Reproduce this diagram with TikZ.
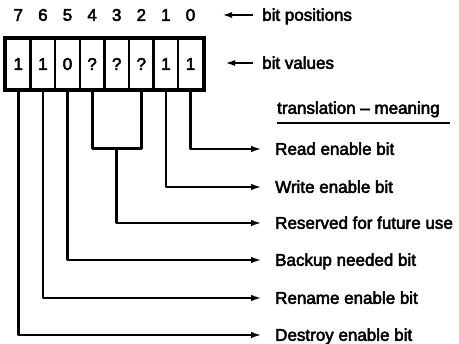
\documentclass[tikz,border=0pt]{standalone}
\usepackage{fontspec}
\setmainfont{Liberation Sans}[FakeBold=3]
\usetikzlibrary{arrows.meta,calc}
\begin{document}
\begin{tikzpicture}[x=1pt,y=-1pt,
  every node/.style={font=\fontsize{17}{20}\selectfont},
  cell/.style={draw,line width=2.4pt,minimum width=24.6pt,minimum height=50pt,inner sep=0pt},
  lbl/.style={anchor=west,inner sep=0pt,text height=11.8pt,text depth=0.2pt},
  wire/.style={line width=2.8pt,line join=round,line cap=round},
  arr/.style={wire,line cap=butt,-{Latex[length=11pt,width=6.5pt]}},
  larr/.style={line width=2.2pt,-{Latex[length=10pt,width=6pt]}}]
\useasboundingbox (0,0) rectangle (459,344);
% cells
\foreach \v/\b [count=\i from 0] in {1/7,1/6,0/5,?/4,?/3,?/2,1/1,1/0}{
  \node[cell] (c\b) at (18.3+24.6*\i,64) {\v};
  \node[inner sep=0pt] (p\b) at (18.3+24.6*\i,15) {\b};
}
\draw[line width=3pt] (c7.north west) rectangle (c0.south east);
% top labels
\node[lbl] (bp) at (262,15) {bit positions};
\node[lbl] (bv) at (262,63) {bit values};
\coordinate (bpt) at (222,15);
\coordinate (bvt) at (225,63);
\draw[larr,shorten <=9pt] (bp.west) -- (bpt);
\draw[larr,shorten <=9pt] (bv.west) -- (bvt);
% heading
\node[lbl] (hd) at (277,108) {translation -- meaning};
\draw[line width=2pt] (277,123) -- (450,123);
% meanings
\node[lbl] (m0) at (275,149) {Read enable bit};
\node[lbl] (m1) at (275,187) {Write enable bit};
\node[lbl] (m2) at (275,223) {Reserved for future use};
\node[lbl] (m5) at (275,260) {Backup needed bit};
\node[lbl] (m6) at (275,298) {Rename enable bit};
\node[lbl] (m7) at (275,335) {Destroy enable bit};
% connectors
\draw[arr,shorten >=13pt] (c0.south) |- (m0.west);
\draw[arr,shorten >=13pt] (c1.south) |- (m1.west);
\draw[wire] (c4.south) -- ++(0,58) coordinate (b4) -- (b4 -| c2.south) -- (c2.south);
\coordinate (bm) at ($(b4)!0.5!(b4 -| c2.south)$);
\draw[arr,shorten >=13pt] (bm) |- (m2.west);
\draw[arr,shorten >=13pt] (c5.south) |- (m5.west);
\draw[arr,shorten >=13pt] (c6.south) |- (m6.west);
\draw[arr,shorten >=13pt] (c7.south) |- (m7.west);
\end{tikzpicture}
\end{document}
